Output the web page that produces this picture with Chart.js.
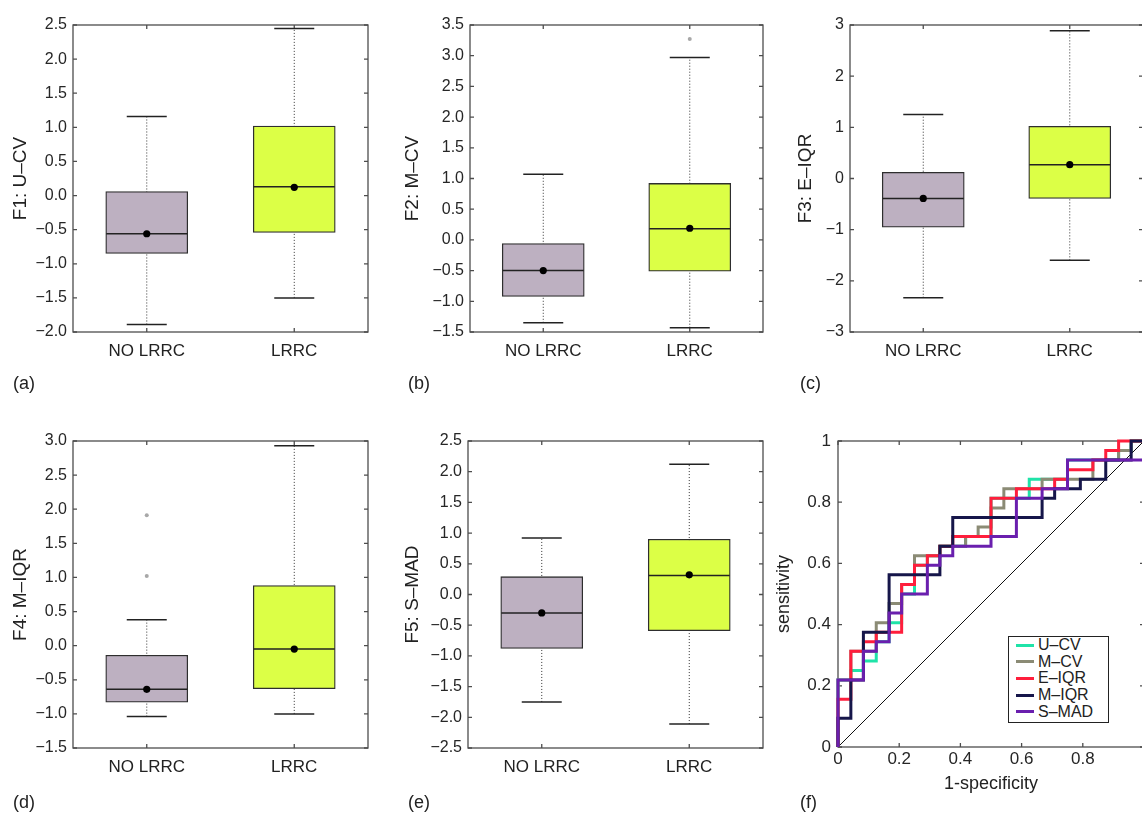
<!DOCTYPE html>
<html><head><meta charset="utf-8">
<script src="https://cdn.jsdelivr.net/npm/chart.js@4.4.1/dist/chart.umd.min.js"></script>
<style>
html,body{margin:0;padding:0;background:#fff;overflow:hidden;width:1142px;height:814px;}
canvas{position:absolute;}
.plab{position:absolute;font:18px 'Liberation Sans',Arial,sans-serif;color:#222;line-height:20px;}
#legend{position:absolute;left:1008px;top:636px;width:101px;height:87px;border:1.5px solid #222;background:#fff;box-sizing:border-box;font:16px 'Liberation Sans',Arial,sans-serif;color:#222;padding-top:0px;}
.li{height:16.6px;display:flex;align-items:center;}
.sw{width:18px;height:3px;margin-left:7px;margin-right:4px;}
</style></head><body>
<script>
// ---------------- DATA ----------------
const features = ['F1: U\u2013CV', 'F2: M\u2013CV', 'F3: E\u2013IQR', 'F4: M\u2013IQR', 'F5: S\u2013MAD'];
const categories = ['NO LRRC', 'LRRC'];
// per feature: [NO LRRC, LRRC]
const q1          = [[-0.85, -0.54], [-0.92, -0.51], [-0.95, -0.39], [-0.83, -0.63], [-0.88, -0.59]];
const q3          = [[ 0.06,  1.02], [-0.06,  0.92], [ 0.12,  1.02], [-0.14,  0.88], [ 0.29,  0.90]];
const medians     = [[-0.56,  0.13], [-0.50,  0.18], [-0.39,  0.27], [-0.64, -0.05], [-0.30,  0.31]];
const means       = [[-0.56,  0.12], [-0.50,  0.19], [-0.39,  0.27], [-0.64, -0.05], [-0.30,  0.32]];
const whiskerLow  = [[-1.89, -1.50], [-1.35, -1.43], [-2.33, -1.60], [-1.04, -1.00], [-1.75, -2.11]];
const whiskerHigh = [[ 1.16,  2.45], [ 1.07,  2.97], [ 1.25,  2.89], [ 0.38,  2.93], [ 0.92,  2.12]];
const outliers    = [[[], []], [[], [3.27]], [[], []], [[1.91, 1.02], []], [[], []]];
const yTicks = [
  [-2, -1.5, -1, -0.5, 0, 0.5, 1, 1.5, 2, 2.5],
  [-1.5, -1, -0.5, 0, 0.5, 1, 1.5, 2, 2.5, 3, 3.5],
  [-3, -2, -1, 0, 1, 2, 3],
  [-1.5, -1, -0.5, 0, 0.5, 1, 1.5, 2, 2.5, 3],
  [-2.5, -2, -1.5, -1, -0.5, 0, 0.5, 1, 1.5, 2, 2.5]
];
const yTickDecimals = [1, 1, 0, 1, 1];

// ROC curves (points at the top of each vertical step)
const rocLabels = ['U\u2013CV', 'M\u2013CV', 'E\u2013IQR', 'M\u2013IQR', 'S\u2013MAD'];
const rocFpr = [
  [0, 0, 0.042, 0.083, 0.125, 0.167, 0.208, 0.25, 0.292, 0.333, 0.417, 0.5, 0.625, 0.75, 0.917, 0.958, 1],
  [0, 0, 0.042, 0.125, 0.167, 0.208, 0.25, 0.333, 0.417, 0.458, 0.5, 0.542, 0.667, 0.833, 0.917, 0.958, 1],
  [0, 0, 0.042, 0.083, 0.125, 0.208, 0.25, 0.292, 0.333, 0.375, 0.5, 0.583, 0.708, 0.75, 0.833, 0.875, 0.917, 1],
  [0, 0, 0.042, 0.083, 0.167, 0.333, 0.375, 0.667, 0.708, 0.792, 0.875, 0.958, 1],
  [0, 0, 0.083, 0.125, 0.167, 0.208, 0.292, 0.333, 0.375, 0.5, 0.583, 0.667, 0.75, 1, 1]
];
const rocTpr = [
  [0, 0.219, 0.25, 0.281, 0.344, 0.406, 0.5, 0.594, 0.625, 0.656, 0.688, 0.813, 0.875, 0.938, 0.969, 1, 1],
  [0, 0.219, 0.313, 0.406, 0.469, 0.531, 0.625, 0.656, 0.688, 0.719, 0.781, 0.844, 0.875, 0.938, 0.969, 1, 1],
  [0, 0.156, 0.313, 0.344, 0.375, 0.531, 0.594, 0.625, 0.656, 0.688, 0.813, 0.844, 0.875, 0.906, 0.938, 0.969, 1, 1],
  [0, 0.094, 0.219, 0.375, 0.563, 0.656, 0.75, 0.813, 0.844, 0.875, 0.938, 1, 1],
  [0, 0.219, 0.313, 0.344, 0.438, 0.5, 0.594, 0.625, 0.656, 0.688, 0.813, 0.844, 0.938, 0.938, 1]
];
const chanceFpr = [0, 1];
const chanceTpr = [0, 1];
const rocXTicks = [0, 0.2, 0.4, 0.6, 0.8];
const rocYTicks = [0, 0.2, 0.4, 0.6, 0.8, 1];

// ---------------- STYLE / LAYOUT ----------------
const boxColors = ['#bdb0c1', '#dcff46'];
const rocColors = ['#1fe3a8', '#8b8b75', '#ff1e3c', '#16164a', '#6a1fae'];
const panelLetters = ['(a)', '(b)', '(c)', '(d)', '(e)', '(f)'];
const letterPos = [[13, 373], [408, 373], [800, 373], [13, 792], [408, 792], [800, 792]];
// canvas rect + chart area for each box panel
const boxGeo = [
  {x: 9,   y: 0,   l: 73,  t: 25,  r: 368,  b: 332},
  {x: 401, y: 0,   l: 470, t: 25,  r: 763,  b: 332},
  {x: 794, y: 0,   l: 850, t: 25,  r: 1143, b: 332},
  {x: 9,   y: 400, l: 73,  t: 441, r: 368,  b: 748},
  {x: 401, y: 400, l: 468, t: 441, r: 763,  b: 748}
];
const rocGeo = {x: 773, y: 400, l: 838, t: 441, r: 1144, b: 747};

Chart.defaults.font.family = "'Liberation Sans', Arial, sans-serif";
Chart.defaults.color = '#222';

const framePlugin = {
  id: 'frame',
  beforeDatasetsDraw(chart) {
    const {ctx, chartArea: a, scales} = chart;
    ctx.save();
    ctx.strokeStyle = '#4d4d4d';
    ctx.lineWidth = 1.3;
    ctx.strokeRect(a.left, a.top, a.right - a.left, a.bottom - a.top);
    const L = 4;
    ctx.beginPath();
    scales.x.ticks.forEach(t => {
      const p = scales.x.getPixelForValue(t.value);
      ctx.moveTo(p, a.bottom); ctx.lineTo(p, a.bottom - L);
      ctx.moveTo(p, a.top); ctx.lineTo(p, a.top + L);
    });
    scales.y.ticks.forEach(t => {
      const p = scales.y.getPixelForValue(t.value);
      ctx.moveTo(a.left, p); ctx.lineTo(a.left + L, p);
      ctx.moveTo(a.right, p); ctx.lineTo(a.right - L, p);
    });
    ctx.stroke();
    ctx.restore();
  }
};

function makeCanvas(g, h) {
  const cv = document.createElement('canvas');
  cv.width = g.r + 12 - g.x;
  cv.height = h;
  cv.style.left = g.x + 'px';
  cv.style.top = g.y + 'px';
  document.body.appendChild(cv);
  return cv;
}
const fmt = (v, d) => v.toFixed(d).replace('-', '\u2212');

// ---------------- BOX PANELS ----------------
boxGeo.forEach((g, i) => {
  const xH = 60;
  const cv = makeCanvas(g, g.b + xH - g.y);
  const pos = categories.map((c, j) => j + 1);
  const datasets = [
    {type: 'line', data: pos.map((x, j) => ({x, y: means[i][j]})), showLine: false,
     pointRadius: 3.6, pointBackgroundColor: '#000', pointBorderColor: '#000', pointBorderWidth: 0, order: 0},
    {type: 'line', data: pos.map((x, j) => ({x, y: medians[i][j]})), showLine: false,
     pointStyle: 'line', pointRadius: 40.5, pointBorderColor: '#222', pointBorderWidth: 1.5, order: 1},
    {type: 'line', data: pos.flatMap((x, j) => [{x, y: whiskerLow[i][j]}, {x, y: whiskerHigh[i][j]}]), showLine: false,
     pointStyle: 'line', pointRadius: 20, pointBorderColor: '#222', pointBorderWidth: 1.5, order: 2},
    {type: 'line', data: pos.flatMap((x, j) => outliers[i][j].map(v => ({x, y: v}))), showLine: false,
     pointRadius: 2, pointBackgroundColor: '#a8a8a8', pointBorderWidth: 0, order: 3},
    {type: 'bar', data: pos.map((x, j) => ({x, y: [q1[i][j], q3[i][j]]})),
     backgroundColor: boxColors, borderColor: '#2e2e2e', borderWidth: 1.3, borderSkipped: false,
     barThickness: 82, order: 4},
    ...pos.map((x, j) => ({type: 'line', data: [{x, y: whiskerLow[i][j]}, {x, y: whiskerHigh[i][j]}],
      borderColor: '#333', borderWidth: 1, borderDash: [1, 2], pointRadius: 0, order: 5}))
  ];
  const ticks = yTicks[i];
  new Chart(cv, {
    type: 'bar',
    data: {datasets},
    plugins: [framePlugin],
    options: {
      responsive: false, animation: false, devicePixelRatio: 1, events: [],
      layout: {autoPadding: false, padding: {left: 0, top: g.t - g.y, right: 12, bottom: 0}},
      plugins: {legend: {display: false}, tooltip: {enabled: false}},
      scales: {
        x: {type: 'linear', min: 0.5, max: 2.5, offset: false,
            afterBuildTicks: s => { s.ticks = pos.map(v => ({value: v})); },
            afterFit: s => { s.height = xH; },
            grid: {display: false, drawTicks: false}, border: {display: false},
            ticks: {autoSkip: false, maxRotation: 0, padding: 9, color: '#222', font: {size: 17},
                    callback: v => categories[Math.round(v) - 1]}},
        y: {type: 'linear', min: ticks[0], max: ticks[ticks.length - 1],
            afterBuildTicks: s => { s.ticks = ticks.map(v => ({value: v})); },
            afterFit: s => { s.width = g.l - g.x; },
            grid: {display: false, drawTicks: false}, border: {display: false},
            title: {display: true, text: features[i], font: {size: 19}, color: '#222', padding: 0},
            ticks: {autoSkip: false, padding: 6, color: '#262626', font: {size: 16},
                    callback: v => fmt(v, yTickDecimals[i])}}
      }
    }
  });
});

// ---------------- ROC PANEL ----------------
(function () {
  const g = rocGeo;
  const xH = 48;
  const cv = makeCanvas(g, g.b + xH - g.y);
  const datasets = rocLabels.map((lab, k) => ({
    type: 'line', label: lab,
    data: rocFpr[k].map((x, n) => ({x, y: rocTpr[k][n]})),
    stepped: true, borderColor: rocColors[k], borderWidth: 3, pointRadius: 0, fill: false,
    clip: false, order: rocLabels.length - k
  }));
  datasets.push({type: 'line', label: 'chance', data: chanceFpr.map((x, n) => ({x, y: chanceTpr[n]})),
    borderColor: '#111', borderWidth: 1, pointRadius: 0, fill: false, order: 10});
  new Chart(cv, {
    type: 'line',
    data: {datasets},
    plugins: [framePlugin],
    options: {
      responsive: false, animation: false, devicePixelRatio: 1, events: [],
      layout: {autoPadding: false, padding: {left: 0, top: g.t - g.y, right: 12, bottom: 0}},
      plugins: {legend: {display: false}, tooltip: {enabled: false}},
      scales: {
        x: {type: 'linear', min: 0, max: 1,
            afterBuildTicks: s => { s.ticks = rocXTicks.map(v => ({value: v})); },
            afterFit: s => { s.height = xH; },
            grid: {display: false, drawTicks: false}, border: {display: false},
            title: {display: true, text: '1-specificity', font: {size: 18}, color: '#222', padding: 0},
            ticks: {autoSkip: false, maxRotation: 0, padding: 2, color: '#262626', font: {size: 17},
                    callback: v => String(v)}},
        y: {type: 'linear', min: 0, max: 1,
            afterBuildTicks: s => { s.ticks = rocYTicks.map(v => ({value: v})); },
            afterFit: s => { s.width = g.l - g.x; },
            grid: {display: false, drawTicks: false}, border: {display: false},
            title: {display: true, text: 'sensitivity', font: {size: 18}, color: '#222', padding: 0},
            ticks: {autoSkip: false, padding: 7, color: '#262626', font: {size: 17},
                    callback: v => String(v)}}
      }
    }
  });
  // legend built from the ROC series
  const lg = document.createElement('div');
  lg.id = 'legend';
  rocLabels.forEach((lab, k) => {
    const row = document.createElement('div');
    row.className = 'li';
    const sw = document.createElement('span');
    sw.className = 'sw';
    sw.style.background = rocColors[k];
    const tx = document.createElement('span');
    tx.textContent = lab;
    row.appendChild(sw); row.appendChild(tx);
    lg.appendChild(row);
  });
  document.body.appendChild(lg);
})();

// panel letters
panelLetters.forEach((t, k) => {
  const d = document.createElement('div');
  d.className = 'plab';
  d.style.left = letterPos[k][0] + 'px';
  d.style.top = letterPos[k][1] + 'px';
  d.textContent = t;
  document.body.appendChild(d);
});
</script></body></html>
